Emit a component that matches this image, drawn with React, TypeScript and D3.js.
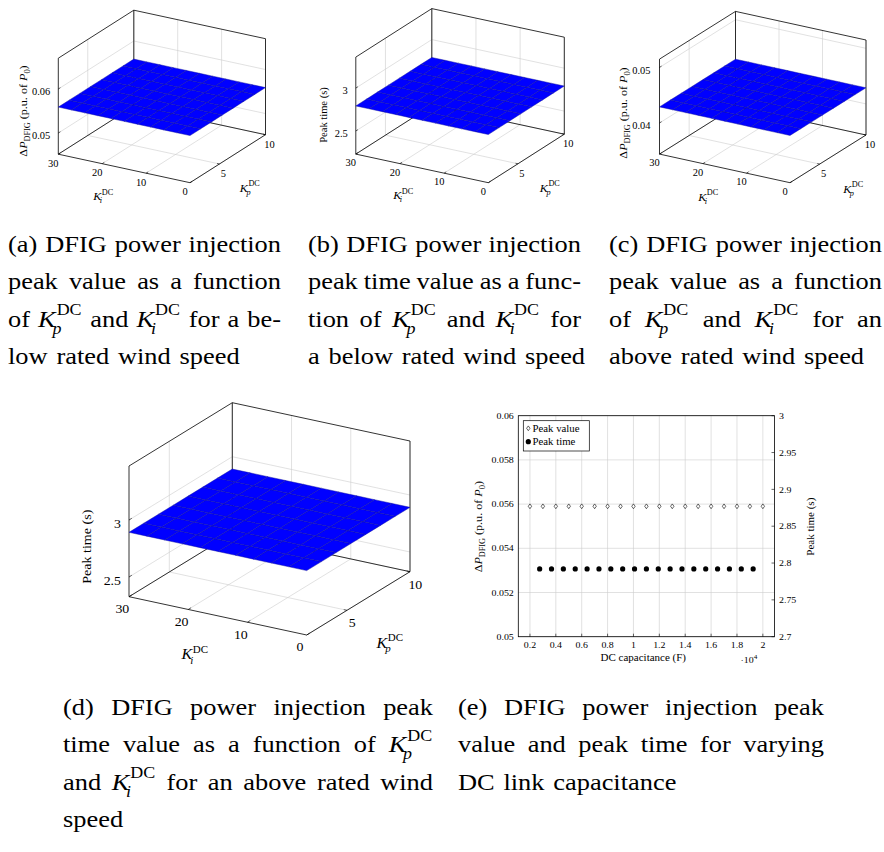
import React from "react";
import * as d3 from "d3";

const FONT = '"Liberation Serif", "Times New Roman", Times, serif';
// Horizontal stretch so the Times-like face occupies roughly Computer Modern widths
const SX = 1.1;

// ---------- controller gain grid (surface plots) ----------
const kiGains = [0, 3, 6, 9, 12, 15, 18, 21, 24, 27, 30];
const kpGains = [1.8, 2.97, 4.14, 5.31, 6.49, 7.66, 8.83, 10];
const kiTicks = [0, 10, 20, 30];
const kpTicks = [5, 10];

// Surface heights along Ki (the response does not change with Kp)
const peakValueBelowRated = [0.0559, 0.0559, 0.0559, 0.0559, 0.0559, 0.0559, 0.0559, 0.0559, 0.0559, 0.0559, 0.0559];
const peakTimeBelowRated = [2.792, 2.792, 2.792, 2.792, 2.792, 2.792, 2.792, 2.792, 2.792, 2.792, 2.792];
const peakValueAboveRated = [0.0429, 0.0429, 0.0429, 0.0429, 0.0429, 0.0429, 0.0429, 0.0429, 0.0429, 0.0429, 0.0429];
const peakTimeAboveRated = [2.892, 2.892, 2.892, 2.892, 2.892, 2.892, 2.892, 2.892, 2.892, 2.892, 2.892];

// ---------- DC link capacitance sweep (x 10^4 F) ----------
const capacitance = [0.2, 0.3, 0.4, 0.5, 0.6, 0.7, 0.8, 0.9, 1.0, 1.1, 1.2, 1.3, 1.4, 1.5, 1.6, 1.7, 1.8, 1.9, 2.0];
const capPeakValue = [0.0559, 0.0559, 0.0559, 0.0559, 0.0559, 0.0559, 0.0559, 0.0559, 0.0559, 0.0559, 0.0559, 0.0559, 0.0559, 0.0559, 0.0559, 0.0559, 0.0559, 0.0559, 0.0559];
const capPeakTime = [2.792, 2.792, 2.792, 2.792, 2.792, 2.792, 2.792, 2.792, 2.792, 2.792, 2.792, 2.792, 2.792, 2.792, 2.792, 2.792, 2.792, 2.792, 2.792];
const capTicks = [0.2, 0.4, 0.6, 0.8, 1, 1.2, 1.4, 1.6, 1.8, 2];
const valueTicks = [0.05, 0.052, 0.054, 0.056, 0.058, 0.06];
const timeTicks = [2.7, 2.75, 2.8, 2.85, 2.9, 2.95, 3];

let measureCtx: CanvasRenderingContext2D | null = null;
function textWidth(text: string, size: number, italic = false): number {
  if (!measureCtx) {
    const c = document.createElement("canvas");
    measureCtx = c.getContext("2d");
  }
  if (!measureCtx) return text.length * size * 0.5;
  measureCtx.font = `${italic ? "italic " : ""}${size}px ${FONT}`;
  return measureCtx.measureText(text).width;
}

// K with an italic subscript and an upright "DC" superscript, as one text element
function kWidth(size: number) {
  return textWidth("K", size, true) + size * 0.04 + textWidth("DC", size * 0.7);
}
function KSym({ x, y, sub, size }: { x: number; y: number; sub: string; size: number }) {
  const wK = textWidth("K", size, true);
  const ss = size * 0.68;
  const up = size * 0.47;
  const down = size * 0.29;
  return (
    <text x={x} y={y} fontSize={size}>
      <tspan fontStyle="italic">K</tspan>
      <tspan x={x + wK + size * 0.04} dy={-up} fontSize={ss}>DC</tspan>
      <tspan x={x + wK - size * 0.12} dy={up + down} fontStyle="italic" fontSize={ss}>{sub}</tspan>
    </text>
  );
}
function KLabel({ cx, cy, sub, size }: { cx: number; cy: number; sub: string; size: number }) {
  const w = kWidth(size);
  return (
    <g transform={`translate(${cx - (w * SX) / 2},${cy + size * 0.3}) scale(${SX},1)`}>
      <KSym x={0} y={0} sub={sub} size={size} />
    </g>
  );
}

function T(props: {
  x: number; y: number; size: number; anchor?: string; rotate?: number; children: React.ReactNode;
}) {
  const { x, y, size, anchor = "start", rotate = 0, children } = props;
  return (
    <text
      transform={`translate(${x},${y}) rotate(${rotate}) scale(${SX},1)`}
      textAnchor={anchor}
      fontSize={size}
      dy="0.35em"
    >
      {children}
    </text>
  );
}

function DeltaPLabel({ cx, cy, size }: { cx: number; cy: number; size: number }) {
  const d = size * 0.28;
  return (
    <text transform={`translate(${cx},${cy}) rotate(-90) scale(${SX},1)`} textAnchor="middle" fontSize={size} dy="0.35em">
      <tspan>{"Δ"}</tspan>
      <tspan fontStyle="italic">{"P"}</tspan>
      <tspan fontSize={size * 0.68} dy={d}>{"DFIG"}</tspan>
      <tspan dy={-d}>{" (p.u. of "}</tspan>
      <tspan fontStyle="italic">{"P"}</tspan>
      <tspan fontSize={size * 0.7} dy={d}>{"0"}</tspan>
      <tspan dy={-d}>{")"}</tspan>
    </text>
  );
}

type Panel3D = {
  key: string;
  origin: [number, number];
  vKi: [number, number];
  vKp: [number, number];
  h: number;
  zDomain: [number, number];
  zTicks: number[];
  levels: number[];
  zKind: "value" | "time";
  s: number;
  zGap: number;
  zLabel: [number, number];
  kiLabel: [number, number];
  kpLabel: [number, number];
};

const panels: Panel3D[] = [
  {
    key: "a", origin: [190, 182.7], vKi: [-131.7, -28.5], vKp: [75.5, -48], h: 96,
    zDomain: [0.0452, 0.067], zTicks: [0.05, 0.06], levels: peakValueBelowRated, zKind: "value",
    s: 1, zGap: 8, zLabel: [23.5, 111], kiLabel: [103.3, 196.7], kpLabel: [250, 188.3],
  },
  {
    key: "b", origin: [488.3, 182.7], vKi: [-132.5, -28.6], vKp: [76, -48.5], h: 97,
    zDomain: [2.231, 3.361], zTicks: [2.5, 3], levels: peakTimeBelowRated, zKind: "time",
    s: 1, zGap: 8, zLabel: [323.3, 115], kiLabel: [403.3, 196], kpLabel: [550, 188.3],
  },
  {
    key: "c", origin: [790, 182.7], vKi: [-130.5, -28.6], vKp: [76, -47.7], h: 95,
    zDomain: [0.0344, 0.0515], zTicks: [0.04, 0.05], levels: peakValueAboveRated, zKind: "value",
    s: 1, zGap: 9, zLabel: [623.5, 113], kiLabel: [708.3, 197.3], kpLabel: [853.3, 189.3],
  },
  {
    key: "d", origin: [306.7, 635], vKi: [-177.7, -38.3], vKp: [103.3, -63.3], h: 130.7,
    zDomain: [2.327, 3.474], zTicks: [2.5, 3], levels: peakTimeAboveRated, zKind: "time",
    s: 1.33, zGap: 6, zLabel: [86.7, 546.7], kiLabel: [195, 655], kpLabel: [390, 643.3],
  },
];

const GRID = "#cdcdcd";

function Surface3D({ cfg }: { cfg: Panel3D }) {
  const s = cfg.s;
  const kiS = d3.scaleLinear().domain([0, 30]).range([0, 1]);
  const kpS = d3.scaleLinear().domain([kpGains[0], kpGains[kpGains.length - 1]]).range([0, 1]);
  const zS = d3.scaleLinear().domain(cfg.zDomain).range([0, 1]);
  const P = (ki: number, kp: number, z: number): [number, number] => [
    cfg.origin[0] + cfg.vKi[0] * kiS(ki) + cfg.vKp[0] * kpS(kp),
    cfg.origin[1] + cfg.vKi[1] * kiS(ki) + cfg.vKp[1] * kpS(kp) - cfg.h * zS(z),
  ];
  const [z0, z1] = cfg.zDomain;
  const kp0 = kpGains[0];
  const kp1 = kpGains[kpGains.length - 1];
  const line = d3.line();

  const grid: [number, number][][] = [];
  kiTicks.forEach((k) => {
    grid.push([P(k, kp0, z0), P(k, kp1, z0)]);
    grid.push([P(k, kp1, z0), P(k, kp1, z1)]);
  });
  kpTicks.forEach((k) => {
    grid.push([P(0, k, z0), P(30, k, z0)]);
    grid.push([P(30, k, z0), P(30, k, z1)]);
  });
  cfg.zTicks.forEach((t) => {
    grid.push([P(30, kp0, t), P(30, kp1, t)]);
    grid.push([P(30, kp1, t), P(0, kp1, t)]);
  });

  const box: [number, number][][] = [
    [P(0, kp0, z0), P(30, kp0, z0)],
    [P(0, kp0, z0), P(0, kp1, z0)],
    [P(30, kp0, z0), P(30, kp1, z0)],
    [P(30, kp1, z0), P(0, kp1, z0)],
    [P(30, kp0, z0), P(30, kp0, z1)],
    [P(30, kp1, z0), P(30, kp1, z1)],
    [P(0, kp1, z0), P(0, kp1, z1)],
    [P(30, kp0, z1), P(30, kp1, z1)],
    [P(30, kp1, z1), P(0, kp1, z1)],
  ];

  const cells: string[] = [];
  for (let i = 0; i < kiGains.length - 1; i++) {
    for (let j = 0; j < kpGains.length - 1; j++) {
      const a = kiGains[i], b = kiGains[i + 1], c = kpGains[j], d = kpGains[j + 1];
      const la = cfg.levels[i], lb = cfg.levels[i + 1];
      cells.push(line([P(a, c, la), P(b, c, lb), P(b, d, lb), P(a, d, la)]) + "Z");
    }
  }

  const tickFont = 9.5 * s;
  const labFont = 11 * s;
  const tl = 2.5 * s;
  const unit = (v: [number, number]) => {
    const n = Math.hypot(v[0], v[1]);
    return [v[0] / n, v[1] / n];
  };
  const uKp = unit(cfg.vKp);
  const uKi = unit(cfg.vKi);

  return (
    <g>
      {grid.map((g, i) => (
        <path key={"g" + i} d={line(g) || ""} stroke={GRID} strokeWidth={0.6} fill="none" />
      ))}
      {box.map((g, i) => (
        <path key={"b" + i} d={line(g) || ""} stroke="#000" strokeWidth={0.8} fill="none" />
      ))}
      {kiTicks.map((k) => {
        const p = P(k, kp0, z0);
        return <path key={"tki" + k} d={`M${p[0]},${p[1]}l${uKp[0] * tl},${uKp[1] * tl}`} stroke="#000" strokeWidth={0.6} />;
      })}
      {kpTicks.map((k) => {
        const p = P(0, k, z0);
        return <path key={"tkp" + k} d={`M${p[0]},${p[1]}l${uKi[0] * tl},${uKi[1] * tl}`} stroke="#000" strokeWidth={0.6} />;
      })}
      {cfg.zTicks.map((t) => {
        const p = P(30, kp0, t);
        return <path key={"tz" + t} d={`M${p[0]},${p[1]}l${uKp[0] * tl},${uKp[1] * tl}`} stroke="#000" strokeWidth={0.6} />;
      })}
      {cells.map((d, i) => (
        <path key={"c" + i} d={d} fill="#0000ff" stroke="#10109a" strokeWidth={0.45} strokeLinejoin="round" />
      ))}
      {kiTicks.map((k) => {
        const p = P(k, kp0, z0);
        return (
          <T key={"lki" + k} x={p[0] - 5 * s} y={p[1] + 9 * s} size={tickFont} anchor="middle">
            {String(k)}
          </T>
        );
      })}
      {kpTicks.map((k) => {
        const p = P(0, k, z0);
        return (
          <T key={"lkp" + k} x={p[0] + 4 * s} y={p[1] + 9.5 * s} size={tickFont} anchor="middle">
            {String(k)}
          </T>
        );
      })}
      {cfg.zTicks.map((t) => {
        const p = P(30, kp0, t);
        return (
          <T key={"lz" + t} x={p[0] - cfg.zGap * s} y={p[1] + 3 * s} size={tickFont} anchor="end">
            {String(t)}
          </T>
        );
      })}
      {cfg.zKind === "value" ? (
        <DeltaPLabel cx={cfg.zLabel[0]} cy={cfg.zLabel[1]} size={11 * s} />
      ) : (
        <T x={cfg.zLabel[0]} y={cfg.zLabel[1]} size={9.6 * s} anchor="middle" rotate={-90}>
          Peak time (s)
        </T>
      )}
      <KLabel cx={cfg.kiLabel[0]} cy={cfg.kiLabel[1]} sub="i" size={labFont} />
      <KLabel cx={cfg.kpLabel[0]} cy={cfg.kpLabel[1]} sub="p" size={labFont} />
    </g>
  );
}

function CapacitancePanel() {
  const left = 518.3, right = 774.5, top = 415.7, bottom = 636.7;
  const x = d3.scaleLinear().domain([0.11, 2.09]).range([left, right]);
  const xTime = d3.scaleLinear().domain([0.02, 2.18]).range([left, right]);
  const yV = d3.scaleLinear().domain([0.05, 0.06]).range([bottom, top]);
  const yT = d3.scaleLinear().domain([2.7, 3]).range([bottom, top]);
  const diamond = "M0,-2.4L1.7,0L0,2.4L-1.7,0Z";
  return (
    <g>
      {capTicks.map((t) => (
        <line key={"vx" + t} x1={x(t)} x2={x(t)} y1={top} y2={bottom} stroke={GRID} strokeWidth={0.6} />
      ))}
      {valueTicks.map((t) => (
        <line key={"hy" + t} x1={left} x2={right} y1={yV(t)} y2={yV(t)} stroke={GRID} strokeWidth={0.6} />
      ))}
      {timeTicks.map((t) => (
        <line key={"rt" + t} x1={right - 3} x2={right} y1={yT(t)} y2={yT(t)} stroke="#000" strokeWidth={0.6} />
      ))}
      {capTicks.map((t) => (
        <line key={"bt" + t} x1={x(t)} x2={x(t)} y1={bottom} y2={bottom - 3} stroke="#000" strokeWidth={0.6} />
      ))}
      <rect x={left} y={top} width={right - left} height={bottom - top} fill="none" stroke="#000" strokeWidth={0.8} />
      {capacitance.map((c, i) => (
        <path
          key={"pv" + i}
          d={diamond}
          transform={`translate(${x(c)},${yV(capPeakValue[i])})`}
          fill="#fff"
          stroke="#000"
          strokeWidth={0.6}
        />
      ))}
      {capacitance.map((c, i) => (
        <circle key={"pt" + i} cx={xTime(c)} cy={yT(capPeakTime[i])} r={2.6} fill="#000" />
      ))}
      {valueTicks.map((t) => (
        <T key={"lv" + t} x={left - 4.5} y={yV(t)} size={9} anchor="end">
          {String(+t.toFixed(3))}
        </T>
      ))}
      {timeTicks.map((t) => (
        <T key={"lt" + t} x={right + 4.5} y={yT(t)} size={9} anchor="start">
          {String(+t.toFixed(2))}
        </T>
      ))}
      {capTicks.map((t) => (
        <T key={"lc" + t} x={x(t)} y={bottom + 8} size={9} anchor="middle">
          {String(+t.toFixed(1))}
        </T>
      ))}
      <T x={643.3} y={657.5} size={10} anchor="middle">DC capacitance (F)</T>
      <text transform={`translate(740.5,662.5) scale(${SX},1)`} fontSize={9}>
        <tspan>{"·10"}</tspan>
        <tspan fontSize={6.5} dy={-3.6}>{"4"}</tspan>
      </text>
      <DeltaPLabel cx={478.5} cy={526.7} size={11} />
      <T x={810} y={526.7} size={10} anchor="middle" rotate={-90}>Peak time (s)</T>
      <rect x={523.3} y={420.7} width={66} height={30.3} fill="#fff" stroke="#000" strokeWidth={0.7} />
      <path d={diamond} transform="translate(528.3,428.3)" fill="#fff" stroke="#000" strokeWidth={0.6} />
      <circle cx={528.3} cy={441.7} r={2.6} fill="#000" />
      <T x={532.5} y={428.3} size={9.8}>Peak value</T>
      <T x={532.5} y={441.7} size={9.8}>Peak time</T>
    </g>
  );
}

type CapLine = { text: string; justify: boolean };
type CaptionCfg = { x: number; w: number; y: number; lines: CapLine[] };

const CAP_SIZE = 24;
const CAP_LEAD = 37.3;

const captions: CaptionCfg[] = [
  {
    x: 8, w: 273, y: 252,
    lines: [
      { text: "(a) DFIG power injection", justify: true },
      { text: "peak value as a function", justify: true },
      { text: "of $p and $i for a be-", justify: true },
      { text: "low rated wind speed", justify: false },
    ],
  },
  {
    x: 308, w: 273, y: 252,
    lines: [
      { text: "(b) DFIG power injection", justify: true },
      { text: "peak time value as a func-", justify: true },
      { text: "tion of $p and $i for", justify: true },
      { text: "a below rated wind speed", justify: false },
    ],
  },
  {
    x: 609, w: 273, y: 252,
    lines: [
      { text: "(c) DFIG power injection", justify: true },
      { text: "peak value as a function", justify: true },
      { text: "of $p and $i for an", justify: true },
      { text: "above rated wind speed", justify: false },
    ],
  },
  {
    x: 63, w: 370, y: 715,
    lines: [
      { text: "(d) DFIG power injection peak", justify: true },
      { text: "time value as a function of $p", justify: true },
      { text: "and $i for an above rated wind", justify: true },
      { text: "speed", justify: false },
    ],
  },
  {
    x: 458, w: 366, y: 715,
    lines: [
      { text: "(e) DFIG power injection peak", justify: true },
      { text: "value and peak time for varying", justify: true },
      { text: "DC link capacitance", justify: false },
    ],
  },
];

function Caption({ cfg }: { cfg: CaptionCfg }) {
  const size = CAP_SIZE;
  const W = cfg.w / SX;
  const space = size * 0.333;
  return (
    <g transform={`translate(${cfg.x},0) scale(${SX},1)`}>
      {cfg.lines.map((ln, li) => {
        const toks = ln.text.split(" ");
        const widths = toks.map((t) => (t.startsWith("$") ? kWidth(size) : textWidth(t, size)));
        const total = d3.sum(widths);
        const gap = ln.justify && toks.length > 1 ? (W - total) / (toks.length - 1) : space;
        const y = cfg.y + li * CAP_LEAD;
        let cx = 0;
        return (
          <g key={li}>
            {toks.map((t, ti) => {
              const xx = cx;
              cx += widths[ti] + gap;
              if (t.startsWith("$")) {
                return <KSym key={ti} x={xx} y={y} sub={t.slice(1)} size={size} />;
              }
              return (
                <text key={ti} x={xx} y={y} fontSize={size}>
                  {t}
                </text>
              );
            })}
          </g>
        );
      })}
    </g>
  );
}

export default function App() {
  return (
    <svg
      width={884}
      height={852}
      viewBox="0 0 884 852"
      style={{ position: "absolute", left: 0, top: 0, display: "block", fontFamily: FONT }}
      fontFamily={FONT}
      fill="#000"
    >
      <rect x={0} y={0} width={884} height={852} fill="#fff" />
      {panels.map((p) => (
        <Surface3D key={p.key} cfg={p} />
      ))}
      <CapacitancePanel />
      {captions.map((c, i) => (
        <Caption key={i} cfg={c} />
      ))}
    </svg>
  );
}
